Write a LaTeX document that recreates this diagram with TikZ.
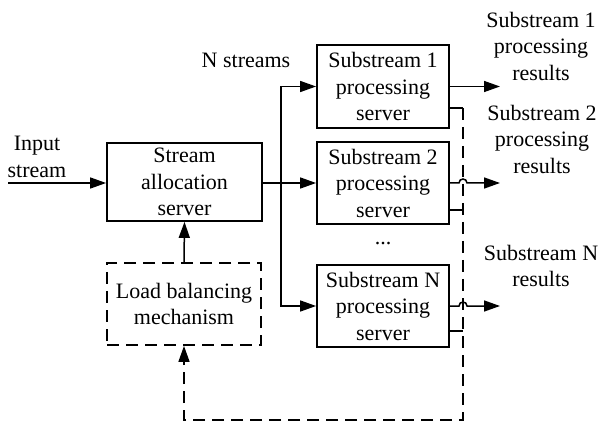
\documentclass[tikz,border=0pt]{standalone}
\usepackage{fontspec}
\setmainfont{Liberation Serif}
\usetikzlibrary{arrows.meta}
\begin{document}
\begin{tikzpicture}[x=1pt,y=-1pt,
  every node/.style={font=\fontsize{22}{26.5}\selectfont, align=center, inner sep=0pt},
  box/.style={draw, line width=1.8pt, minimum width=132pt, minimum height=82pt},
  longbox/.style={box, minimum width=155pt, minimum height=78pt},
  dashpat/.style={dash pattern=on 12pt off 7pt},
  link/.style={line width=1.5pt},
  arr/.style={link, -{Triangle[length=16pt,width=11pt]}}]
\useasboundingbox (0,0) rectangle (600,422);

% servers
\node[longbox] (alloc) at (184.5,182) {Stream\\allocation\\server};
\node[box, minimum height=83pt] (sub1) at (383,86.5) {Substream 1\\processing\\server};
\node[box] (sub2) at (383,183) {Substream 2\\processing\\server};
\node[box] (subN) at (383,306) {Substream N\\processing\\server};
\node[longbox, minimum width=154pt, minimum height=82pt, dashpat] (lb) at (184,304) {Load balancing\\mechanism};

% labels
\node (inlbl) at (37,157) {Input\\stream};
\node (nlbl) at (246,60) {N streams};
\node (dots) at (383,244) {...};
\node (r1) at (541,46) {Substream 1\\processing\\results};
\node (r2) at (542,139) {Substream 2\\processing\\results};
\node (rN) at (541,266) {Substream N\\results};

% helper points
\coordinate (in) at (8,183);
\coordinate (split) at (281,183);
\coordinate (o1) at (500,86.5);
\coordinate (o2) at (500,183);
\coordinate (oN) at (500,306);
\coordinate (fb1) at (463,108);
\coordinate (fb2) at (463,210);
\coordinate (fbN) at (463,331);
\coordinate (fbc) at (463,420);

% input and distribution
\draw[arr] (in) -- (alloc.west |- in);
\draw[arr] (alloc.east |- split) -- (sub2.west);
\draw[arr] (split) |- (sub1.west);
\draw[arr] (split) |- (subN.west);
\draw[arr] (lb.north) -- (alloc.south);

% results, hopping over the feedback line
\draw[arr] (sub1.east) -- (o1);
\draw[arr] (sub2.east) -- ([xshift=-4pt]fb2 |- o2)
  .. controls +(0,-5.3) and +(0,-5.3) .. ([xshift=4pt]fb2 |- o2) -- (o2);
\draw[arr] (subN.east) -- ([xshift=-4pt]fbN |- oN)
  .. controls +(0,-5.3) and +(0,-5.3) .. ([xshift=4pt]fbN |- oN) -- (oN);

% load feedback
\draw[link] (sub1.east |- fb1) -- (fb1);
\draw[link] (sub2.east |- fb2) -- (fb2);
\draw[link] (subN.east |- fbN) -- (fbN);
\draw[arr, dashpat] (fb1) -- (fbc) -| (lb.south);
\end{tikzpicture}
\end{document}
